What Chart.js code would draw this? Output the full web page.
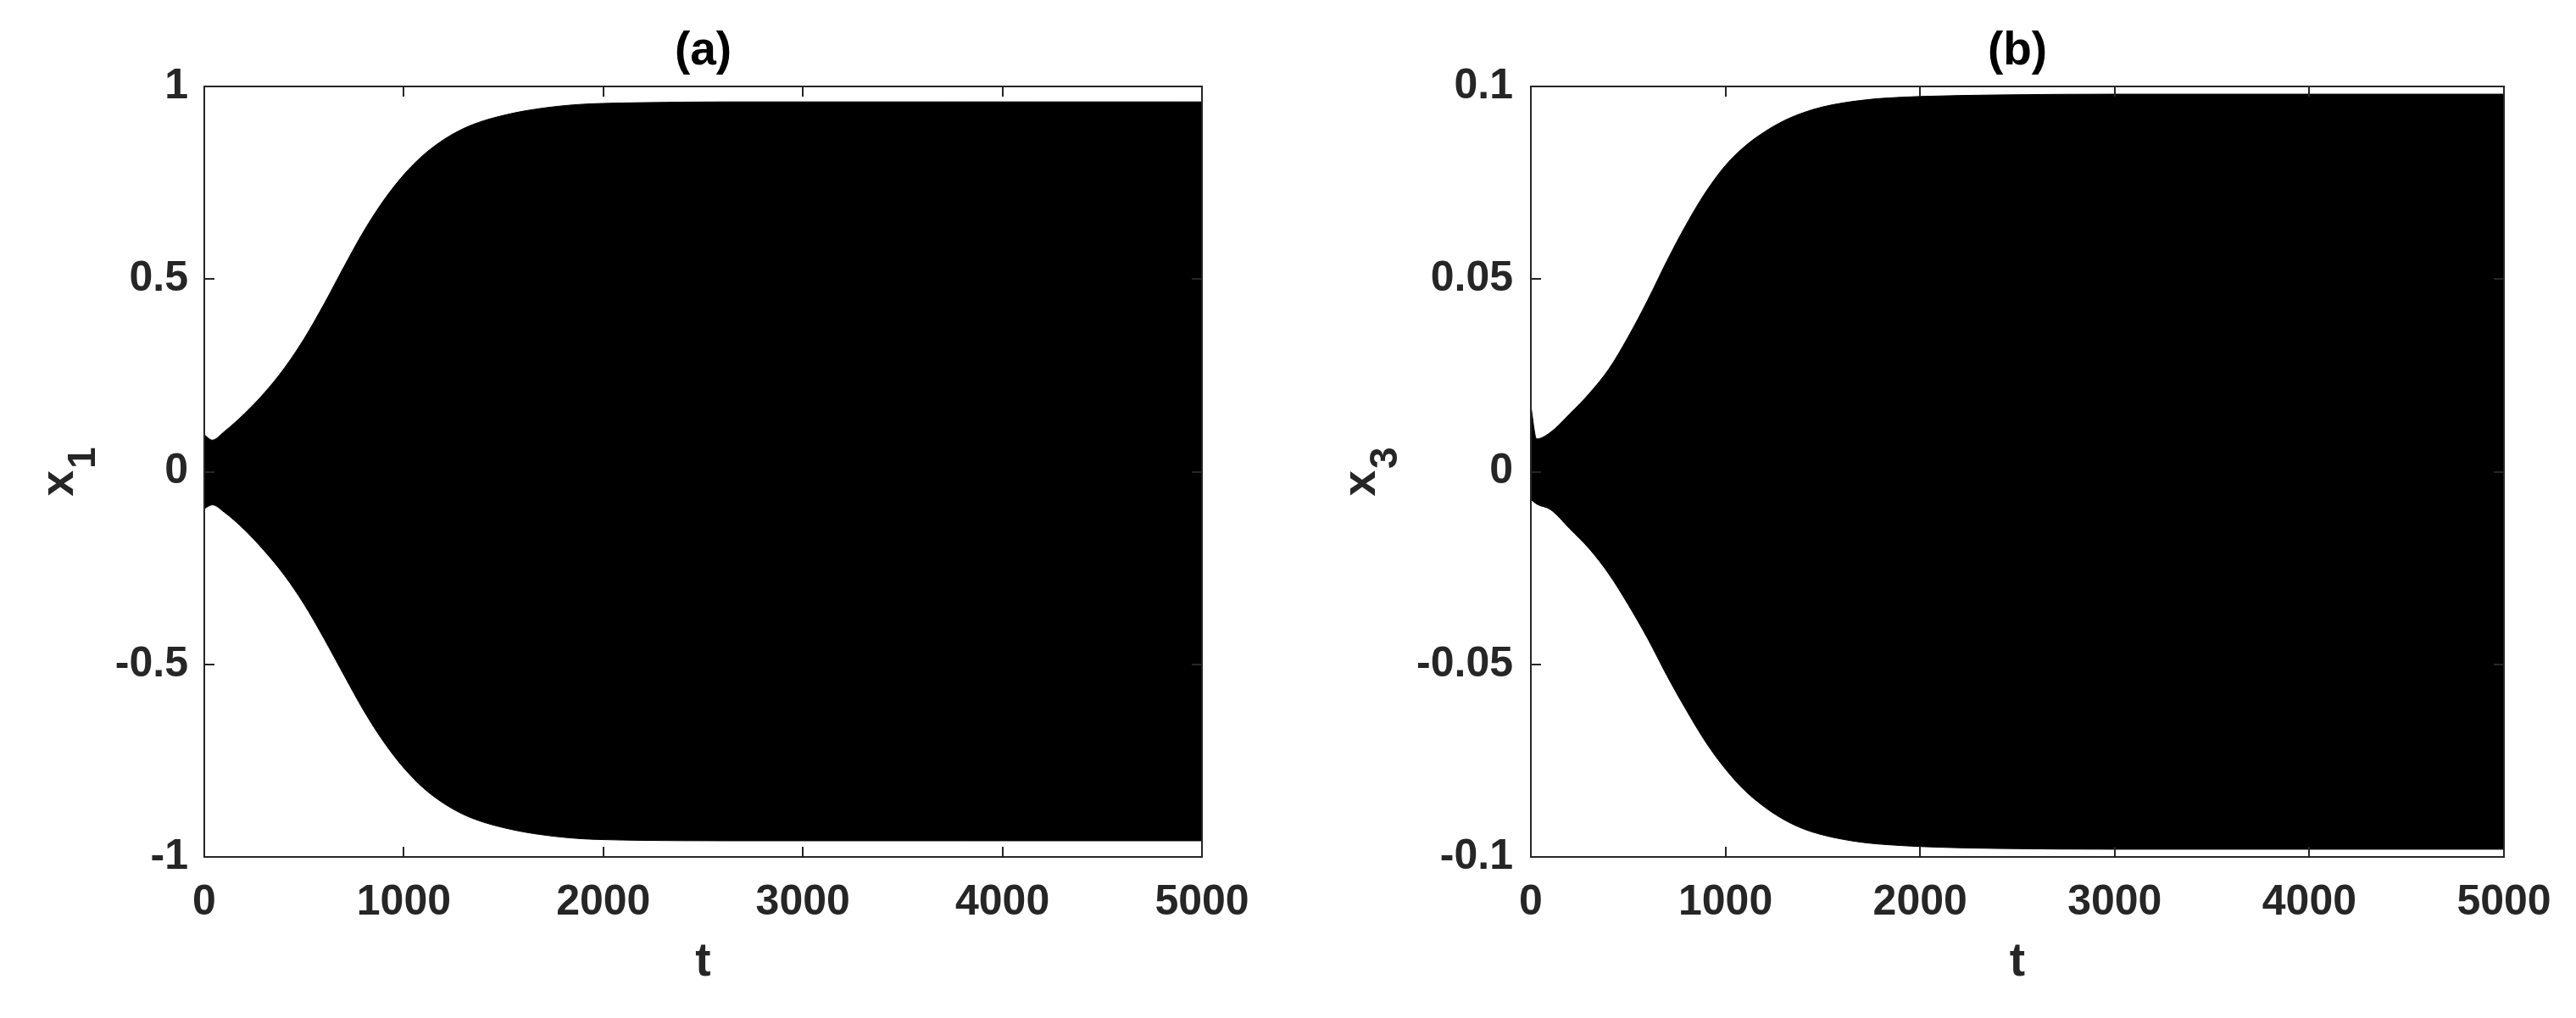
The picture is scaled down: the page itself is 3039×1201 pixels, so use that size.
<!DOCTYPE html>
<html>
<head>
<meta charset="utf-8">
<script src="https://cdn.jsdelivr.net/npm/chart.js@4.4.1/dist/chart.umd.min.js"></script>
<style>
  html, body { margin: 0; padding: 0; background: #fff; }
  #page { position: relative; width: 3039px; height: 1201px; overflow: hidden; background: #fff; }
  .panel { position: absolute; top: 0; height: 1201px; }
</style>
</head>
<body>
<div id="page">
  <div class="panel" style="left:0;width:1500px"><canvas id="chartA" width="1500" height="1201"></canvas></div>
  <div class="panel" style="left:1500px;width:1539px"><canvas id="chartB" width="1539" height="1201"></canvas></div>
</div>
<script>
// Envelope of the (very dense) oscillation
const timeA  = [0, 40, 100, 200, 300, 400, 500, 600, 700, 800, 900, 1000, 1100, 1200, 1300, 1400, 1500, 1600, 1700, 1800, 1900, 2000, 2200, 2600, 5000];
const upperA = [0.096, 0.082, 0.104, 0.150, 0.204, 0.268, 0.345, 0.435, 0.532, 0.625, 0.705, 0.771, 0.823, 0.862, 0.891, 0.911, 0.925, 0.936, 0.944, 0.950, 0.954, 0.956, 0.958, 0.960, 0.960];
const lowerA = [-0.096, -0.086, -0.105, -0.150, -0.205, -0.268, -0.344, -0.433, -0.528, -0.621, -0.702, -0.769, -0.822, -0.861, -0.890, -0.910, -0.924, -0.935, -0.943, -0.949, -0.953, -0.955, -0.957, -0.958, -0.958];

const timeB  = [0, 30, 100, 200, 300, 400, 500, 600, 700, 800, 900, 1000, 1100, 1200, 1300, 1400, 1500, 1600, 1700, 1800, 2000, 2400, 3000, 5000];
const upperB = [0.017, 0.0085, 0.0102, 0.0150, 0.0203, 0.0266, 0.0350, 0.0445, 0.0548, 0.0643, 0.0727, 0.0795, 0.0845, 0.0882, 0.0911, 0.0932, 0.0947, 0.0957, 0.0964, 0.0969, 0.0974, 0.0978, 0.0980, 0.0980];
const lowerB = [-0.0072, -0.0084, -0.0098, -0.0148, -0.0200, -0.0265, -0.0345, -0.0433, -0.0530, -0.0620, -0.0703, -0.0772, -0.0828, -0.0870, -0.0903, -0.0927, -0.0943, -0.0954, -0.0962, -0.0967, -0.0973, -0.0978, -0.0980, -0.0980];

const xTicks  = [0, 1000, 2000, 3000, 4000, 5000];
const yTicksA = [-1, -0.5, 0, 0.5, 1];
const yTicksB = [-0.1, -0.05, 0, 0.05, 0.1];

const axisColor = '#262626';
const fontFamily = '"Liberation Sans", Arial, Helvetica, sans-serif';
Chart.defaults.font.family = fontFamily;

// MATLAB-like box with inward ticks and a subscripted y label
const framePlugin = {
    id: 'frame',
    afterDatasetsDraw(chart, args, opts) {
        const { ctx, chartArea: a, scales } = chart;
        const len = 12;
        ctx.save();
        ctx.strokeStyle = axisColor;
        ctx.lineWidth = 2;
        ctx.beginPath();
        scales.x.ticks.forEach(t => {
            const px = Math.round(scales.x.getPixelForValue(t.value));
            ctx.moveTo(px, a.bottom); ctx.lineTo(px, a.bottom - len);
            ctx.moveTo(px, a.top); ctx.lineTo(px, a.top + len);
        });
        scales.y.ticks.forEach(t => {
            const py = Math.round(scales.y.getPixelForValue(t.value));
            ctx.moveTo(a.left, py); ctx.lineTo(a.left + len, py);
            ctx.moveTo(a.right, py); ctx.lineTo(a.right - len, py);
        });
        ctx.stroke();
        ctx.strokeRect(a.left, a.top, a.right - a.left, a.bottom - a.top);

        // y label: "x" plus subscript, rotated
        const cy = (a.top + a.bottom) / 2;
        ctx.translate(opts.labelX, cy);
        ctx.rotate(-Math.PI / 2);
        ctx.fillStyle = axisColor;
        ctx.textBaseline = 'alphabetic';
        ctx.textAlign = 'left';
        ctx.font = 'bold 55px ' + fontFamily;
        const w1 = ctx.measureText(opts.base).width;
        ctx.font = 'bold 46px ' + fontFamily;
        const w2 = ctx.measureText(opts.sub).width;
        const x0 = -(w1 + w2 + 2) / 2;
        ctx.font = 'bold 55px ' + fontFamily;
        ctx.fillText(opts.base, x0, 0);
        ctx.font = 'bold 46px ' + fontFamily;
        ctx.fillText(opts.sub, x0 + w1 + 2, 26);
        ctx.restore();
    }
};

function makePanel(canvasId, cfg) {
    const ctx = document.getElementById(canvasId).getContext('2d');
    const tickFont = { size: 50, weight: 'bold' };
    return new Chart(ctx, {
        type: 'line',
        data: {
            datasets: [{
                data: cfg.time.map((t, i) => ({ x: t, y: cfg.upper[i] })),
                borderColor: '#000',
                backgroundColor: '#000',
                borderWidth: 1,
                pointRadius: 0,
                cubicInterpolationMode: 'monotone',
                fill: '+1'
            }, {
                data: cfg.time.map((t, i) => ({ x: t, y: cfg.lower[i] })),
                borderColor: '#000',
                backgroundColor: '#000',
                borderWidth: 1,
                pointRadius: 0,
                cubicInterpolationMode: 'monotone',
                fill: false
            }]
        },
        options: {
            responsive: false,
            maintainAspectRatio: false,
            animation: false,
            events: [],
            layout: { padding: { left: 0, top: 0, right: cfg.padRight, bottom: 0 } },
            scales: {
                x: {
                    type: 'linear',
                    min: 0,
                    max: 5000,
                    afterBuildTicks: s => { s.ticks = xTicks.map(v => ({ value: v })); },
                    afterFit: s => { s.height = 190; },
                    grid: { display: false, drawTicks: false },
                    border: { display: false },
                    ticks: {
                        font: tickFont,
                        color: axisColor,
                        padding: 24,
                        maxRotation: 0,
                        autoSkip: false,
                        callback: v => String(v)
                    },
                    title: {
                        display: true,
                        text: 't',
                        color: axisColor,
                        font: { size: 55, weight: 'bold' },
                        padding: { top: 0, bottom: 32 }
                    }
                },
                y: {
                    type: 'linear',
                    min: cfg.yTicks[0],
                    max: cfg.yTicks[cfg.yTicks.length - 1],
                    afterBuildTicks: s => { s.ticks = cfg.yTicks.map(v => ({ value: v })); },
                    afterFit: s => { s.width = cfg.yWidth; },
                    grid: { display: false, drawTicks: false },
                    border: { display: false },
                    ticks: {
                        font: tickFont,
                        color: axisColor,
                        padding: cfg.yPad,
                        autoSkip: false,
                        callback: v => String(v)
                    }
                }
            },
            plugins: {
                legend: { display: false },
                tooltip: { enabled: false },
                title: {
                    display: true,
                    text: cfg.title,
                    fullSize: false,
                    color: '#000',
                    font: { size: 55, weight: 'bold' },
                    padding: { top: 28, bottom: 8 }
                },
                frame: { base: 'x', sub: cfg.sub, labelX: cfg.labelX }
            }
        },
        plugins: [framePlugin]
    });
}

makePanel('chartA', {
    time: timeA, upper: upperA, lower: lowerA, yTicks: yTicksA,
    title: '(a)', sub: '1', labelX: 86, yWidth: 241, yPad: 19, padRight: 82
});
makePanel('chartB', {
    time: timeB, upper: upperB, lower: lowerB, yTicks: yTicksB,
    title: '(b)', sub: '3', labelX: 122, yWidth: 306, yPad: 21, padRight: 85
});
</script>
</body>
</html>
